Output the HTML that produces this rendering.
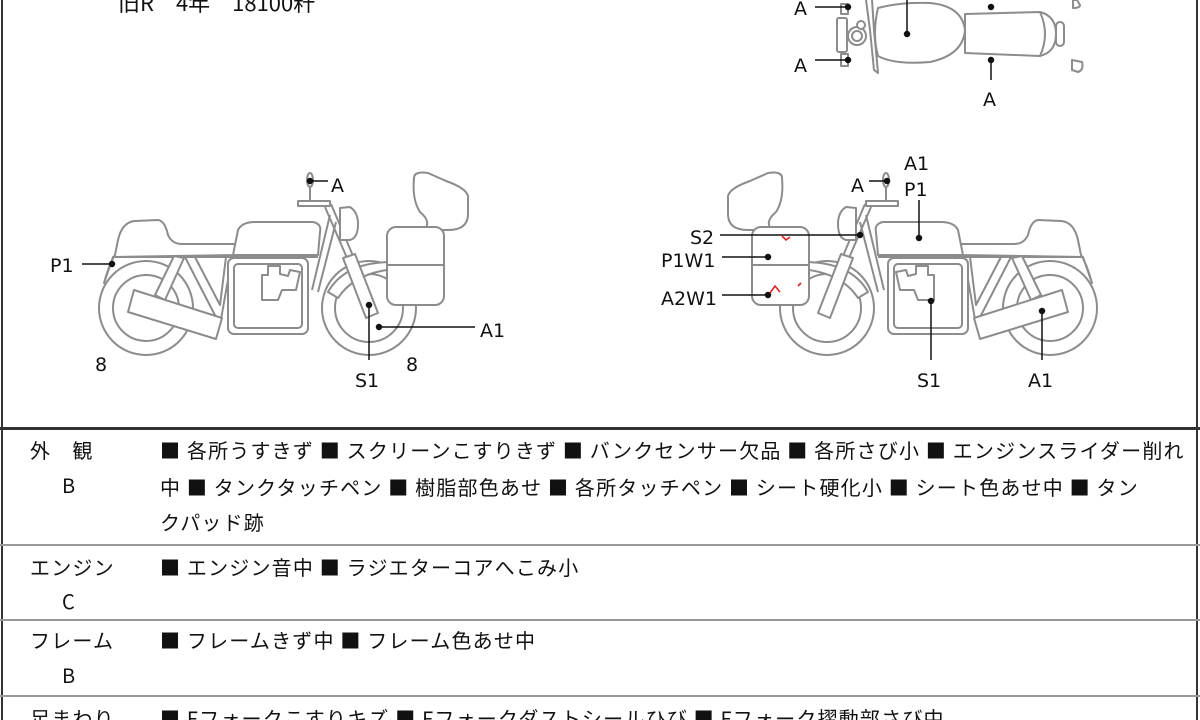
<!DOCTYPE html>
<html><head><meta charset="utf-8"><style>
html,body{margin:0;padding:0;background:#fff;}
#w{position:relative;width:1200px;height:720px;overflow:hidden;background:#fff;font-family:"Liberation Sans","Noto Sans CJK JP",sans-serif;color:#111;}
.t{position:absolute;white-space:nowrap;font-family:"Noto Sans CJK JP","Liberation Sans",sans-serif;font-size:20px;line-height:36px;letter-spacing:1.2px;}
.hl{position:absolute;left:0;width:1200px;height:2px;background:#999;}
</style></head><body><div id="w">
<svg width="1200" height="720" style="position:absolute;left:0;top:0">
<defs>
<g id="bike" fill="#fff" stroke="#8c8c8c" stroke-width="2" stroke-linejoin="round">
  <circle cx="146" cy="308" r="47"/><circle cx="146" cy="308" r="33"/>
  <circle cx="369" cy="308" r="47"/><circle cx="369" cy="308" r="34"/>
  <path d="M328 292 Q345 262 392 262 L396 269 Q355 272 338 298 Z"/>
  <path d="M104 283 Q110 262 115 255 L118 240 Q122 222 135 221 L158 220 Q165 221 168 235 Q172 244 182 244 L236 244 L236 255 L113 257 Z"/>
  <path d="M233 255 L238 230 Q242 222 255 222 L313 222 Q322 224 320 232 L318 255 Z"/>
  <path d="M113 257 L318 257" fill="none"/>
  <polygon points="155,295 165,300 184,258 174,256"/>
  <path d="M185 257 L220 325 L232 257 M195 257 L220 305 L226 257" fill="none"/>
  <rect x="228" y="258" width="80" height="76" rx="6"/>
  <rect x="234" y="264" width="68" height="64" rx="4"/>
  <path d="M262 300 L262 275 L268 275 L268 266 L280 266 L280 274 L288 276 L290 270 L300 272 L296 290 L282 290 L278 300 Z"/>
  <polygon points="134,290 222,318 216,339 128,312"/>
  <path d="M325 207 L347 258 M331 204 L353 256" fill="none"/>
  <path d="M330 215 L312 290 M336 222 L318 292" fill="none"/>
  <polygon points="343,258 355,254 378,313 366,318"/>
  <rect x="298" y="201" width="32" height="5"/>
  <path d="M310 185 L310 201" fill="none"/>
  <ellipse cx="310" cy="180" rx="3" ry="7"/>
  <path d="M340 208 L350 207 Q358 212 358 224 Q358 238 350 240 L340 240 Z"/>
  <path d="M414 178 Q412 200 420 212 Q432 222 424 230 L448 230 Q468 230 468 214 L468 196 Q466 188 446 181 L428 173 Q414 171 414 178 Z"/>
  <rect x="387" y="227" width="57" height="78" rx="9"/>
  <path d="M387 265 L444 265" fill="none"/>
</g>
</defs>
<line x1="2" y1="0" x2="2" y2="720" stroke="#333" stroke-width="2"/>
<line x1="1197" y1="0" x2="1197" y2="720" stroke="#333" stroke-width="2"/>
<use href="#bike"/>
<use href="#bike" transform="translate(1196,0) scale(-1,1)"/>
<g fill="#fff" stroke="#8c8c8c" stroke-width="2" stroke-linejoin="round">
  <path d="M841 4 L848 4 L848 14 L841 14 Z M841 54 L848 54 L848 66 L841 66 Z"/>
  <rect x="837" y="18" width="10" height="34" rx="2"/>
  <circle cx="857" cy="36" r="9"/><circle cx="857" cy="36" r="5"/>
  <circle cx="861" cy="25" r="4"/>
  <path d="M866 0 L870 30 L874 70 L878 73 L874 30 L872 0"/>
  <path d="M878 8 Q900 2 930 3 Q962 6 965 30 Q963 55 930 62 Q895 65 878 56 Q872 34 878 8 Z"/>
  <path d="M965 14 L1040 12 Q1056 16 1056 34 Q1056 52 1040 56 L965 53 Z"/>
  <path d="M1040 12 Q1050 34 1040 56" fill="none"/>
  <rect x="1056" y="22" width="8" height="24" rx="4"/>
  <path d="M1073 0 L1077 0 L1080 5 Q1080 8 1073 8 Z M1072 60 L1082 62 Q1084 70 1078 72 L1072 70 Z"/>
</g>
<g stroke="#111" stroke-width="1.5" fill="#111">
  <line x1="815" y1="7" x2="848" y2="7"/><circle cx="848" cy="7" r="2.5"/>
  <line x1="815" y1="60" x2="848" y2="60"/><circle cx="848" cy="60" r="2.5"/>
  <line x1="907" y1="0" x2="907" y2="34"/><circle cx="907" cy="34" r="2.5"/>
  <circle cx="991" cy="7" r="2.5"/><circle cx="991" cy="60" r="2.5"/>
  <line x1="991" y1="62" x2="991" y2="80"/>
  <line x1="310" y1="181" x2="328" y2="181"/><circle cx="310" cy="181" r="2.5"/>
  <line x1="82" y1="264" x2="112" y2="264"/><circle cx="112" cy="264" r="2.5"/>
  <line x1="379" y1="327" x2="475" y2="327"/><circle cx="379" cy="327" r="2.5"/>
  <line x1="369" y1="305" x2="369" y2="360"/><circle cx="369" cy="305" r="2.5"/>
  <line x1="919" y1="200" x2="919" y2="238"/><circle cx="919" cy="238" r="2.5"/>
  <line x1="869" y1="181" x2="887" y2="181"/><circle cx="887" cy="181" r="2.5"/>
  <line x1="720" y1="235" x2="860" y2="235"/><circle cx="860" cy="235" r="2.5"/>
  <line x1="722" y1="257" x2="768" y2="257"/><circle cx="768" cy="257" r="2.5"/>
  <line x1="722" y1="295" x2="768" y2="295"/><circle cx="768" cy="295" r="2.5"/>
  <line x1="931" y1="301" x2="931" y2="360"/><circle cx="931" cy="301" r="2.5"/>
  <line x1="1042" y1="311" x2="1042" y2="360"/><circle cx="1042" cy="311" r="2.5"/>
</g>
<g stroke="#d22" stroke-width="1.6" fill="none">
  <path d="M782 236 L786 240 L790 237"/>
  <path d="M770 293 L775 286 L780 292"/>
  <path d="M798 286 L801 283"/>
</g>
<g font-family="DejaVu Sans, Liberation Sans, sans-serif" font-size="19" fill="#111">
  <text x="794" y="15">A</text><text x="794" y="72">A</text><text x="983" y="106">A</text>
  <text x="331" y="192">A</text><text x="50" y="272">P1</text><text x="480" y="337">A1</text>
  <text x="355" y="387">S1</text><text x="95" y="371">8</text><text x="406" y="371">8</text>
  <text x="904" y="170">A1</text><text x="904" y="196">P1</text><text x="851" y="192">A</text>
  <text x="690" y="244">S2</text><text x="661" y="267">P1W1</text><text x="661" y="305">A2W1</text>
  <text x="917" y="387">S1</text><text x="1028" y="387">A1</text>
</g>
</svg>
<div class="t" style="left:118px;top:-16px;font-size:22px;letter-spacing:0">旧R　4年　18100粁</div>
<div class="hl" style="top:427px;height:3px;background:#333"></div>
<div class="hl" style="top:544px"></div>
<div class="hl" style="top:619px"></div>
<div class="hl" style="top:695px"></div>
<div class="t" style="left:30px;top:432px">外　観</div>
<div class="t" style="left:62px;top:467px">B</div>
<div class="t" style="left:160px;top:432px">■ 各所うすきず ■ スクリーンこすりきず ■ バンクセンサー欠品 ■ 各所さび小 ■ エンジンスライダー削れ</div>
<div class="t" style="left:160px;top:469px">中 ■ タンクタッチペン ■ 樹脂部色あせ ■ 各所タッチペン ■ シート硬化小 ■ シート色あせ中 ■ タン</div>
<div class="t" style="left:160px;top:504px">クパッド跡</div>
<div class="t" style="left:30px;top:549px">エンジン</div>
<div class="t" style="left:62px;top:583px">C</div>
<div class="t" style="left:160px;top:549px">■ エンジン音中 ■ ラジエターコアへこみ小</div>
<div class="t" style="left:30px;top:622px">フレーム</div>
<div class="t" style="left:62px;top:657px">B</div>
<div class="t" style="left:160px;top:622px">■ フレームきず中 ■ フレーム色あせ中</div>
<div class="t" style="left:30px;top:700px">足まわり</div>
<div class="t" style="left:160px;top:700px">■ Fフォークこすりキズ ■ Fフォークダストシールひび ■ Fフォーク摺動部さび中</div>
</div></body></html>
